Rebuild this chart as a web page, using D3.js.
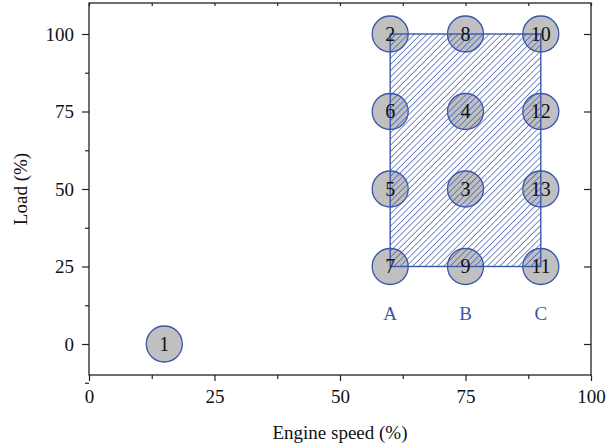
<!DOCTYPE html>
<html>
<head>
<meta charset="utf-8">
<script src="https://cdn.jsdelivr.net/npm/d3@7"></script>
<style>
  body { margin: 0; background: #fff; }
  text { font-family: "Liberation Serif", "DejaVu Serif", serif; }
</style>
</head>
<body>
<svg width="608" height="448"></svg>
<script>
const WIDTH = 608;
const HEIGHT = 448;

// operating points: id, engine speed (%), load (%)
const pointIds = [1, 2, 3, 4, 5, 6, 7, 8, 9, 10, 11, 12, 13];
const pointSpeed = [15, 60, 75, 75, 60, 60, 60, 75, 75, 90, 90, 90, 90];
const pointLoad = [0, 100, 50, 75, 50, 75, 25, 100, 25, 100, 25, 75, 50];

// region labels under the columns
const regionNames = ["A", "B", "C"];
const regionSpeed = [60, 75, 90];
const regionLoad = 10;

// hatched test area
const areaSpeed = [60, 90];
const areaLoad = [25, 100];

const xTicks = [0, 25, 50, 75, 100];
const yTicks = [0, 25, 50, 75, 100];

const BLUE = "#3a56ad";

const svg = d3.select("svg");
const PL = 89, PR = 591, PT = 3, PB = 375;

const x = d3.scaleLinear().domain([0, 100]).range([PL, PR]);
const y = d3.scaleLinear().domain([-10, 110]).range([PB, PT]);

const minorX = d3.range(12.5, 100, 25);
const minorY = d3.range(-12.5, 110, 25);

// hatch pattern
const defs = svg.append("defs");
const pat = defs.append("pattern")
  .attr("id", "hatch")
  .attr("patternUnits", "userSpaceOnUse")
  .attr("width", 4.4)
  .attr("height", 4.4)
  .attr("patternTransform", "rotate(45)");
pat.append("line")
  .attr("x1", 0).attr("y1", -1).attr("x2", 0).attr("y2", 6)
  .attr("stroke", BLUE)
  .attr("stroke-width", 1.35);

// frame
svg.append("rect")
  .attr("x", PL).attr("y", PT)
  .attr("width", PR - PL).attr("height", PB - PT)
  .attr("fill", "none").attr("stroke", "#222").attr("stroke-width", 1.3);

// bottom axis
svg.append("g").attr("transform", `translate(0,${PB})`)
  .call(d3.axisBottom(x).tickValues(xTicks).tickSize(6).tickPadding(9));
svg.append("g").attr("transform", `translate(0,${PB})`)
  .call(d3.axisBottom(x).tickValues(minorX).tickSize(4).tickFormat(""));

// left axis
svg.append("g").attr("transform", `translate(${PL},0)`)
  .call(d3.axisLeft(y).tickValues(yTicks).tickSize(7).tickPadding(8));
svg.append("g").attr("transform", `translate(${PL},0)`)
  .call(d3.axisLeft(y).tickValues(minorY).tickSize(4).tickFormat(""));

// top axis (inward ticks)
svg.append("g").attr("transform", `translate(0,${PT})`)
  .call(d3.axisBottom(x).tickValues(xTicks.concat(minorX)).tickSize(3).tickFormat(""));

// right axis (inward ticks)
svg.append("g").attr("transform", `translate(${PR},0)`)
  .call(d3.axisLeft(y).tickValues(yTicks).tickSize(7).tickFormat(""));

svg.selectAll(".domain").remove();
svg.selectAll(".tick line").attr("stroke", "#222").attr("stroke-width", 1.2);
svg.selectAll(".tick text")
  .attr("fill", "#111")
  .style("font-size", "19px")
  .style("font-family", "'Liberation Serif', serif");

// axis titles
svg.append("text")
  .attr("x", (PL + PR) / 2).attr("y", 439)
  .attr("text-anchor", "middle")
  .attr("fill", "#111")
  .style("font-size", "19px")
  .text("Engine speed (%)");

svg.append("text")
  .attr("transform", `translate(27,${(PT + PB) / 2}) rotate(-90)`)
  .attr("text-anchor", "middle")
  .attr("fill", "#111")
  .style("font-size", "19px")
  .text("Load (%)");

// circles
const pts = pointIds.map((id, i) => ({ id, sx: pointSpeed[i], ld: pointLoad[i] }));

svg.append("g").selectAll("circle")
  .data(pts).enter().append("circle")
  .attr("cx", d => x(d.sx)).attr("cy", d => y(d.ld))
  .attr("r", 18)
  .attr("fill", "#c0c0c0")
  .attr("stroke", BLUE)
  .attr("stroke-width", 1.3);

// hatched area
svg.append("rect")
  .attr("x", x(areaSpeed[0]))
  .attr("y", y(areaLoad[1]))
  .attr("width", x(areaSpeed[1]) - x(areaSpeed[0]))
  .attr("height", y(areaLoad[0]) - y(areaLoad[1]))
  .attr("fill", "url(#hatch)")
  .attr("stroke", BLUE)
  .attr("stroke-width", 1.4);

// point labels
svg.append("g").selectAll("text")
  .data(pts).enter().append("text")
  .attr("x", d => x(d.sx)).attr("y", d => y(d.ld) + 6.5)
  .attr("text-anchor", "middle")
  .attr("fill", "#111")
  .style("font-size", "20px")
  .text(d => d.id);

// region labels
svg.append("g").selectAll("text")
  .data(regionNames).enter().append("text")
  .attr("x", (d, i) => x(regionSpeed[i])).attr("y", y(regionLoad) + 7)
  .attr("text-anchor", "middle")
  .attr("fill", BLUE)
  .style("font-size", "19px")
  .text(d => d);
</script>
</body>
</html>
